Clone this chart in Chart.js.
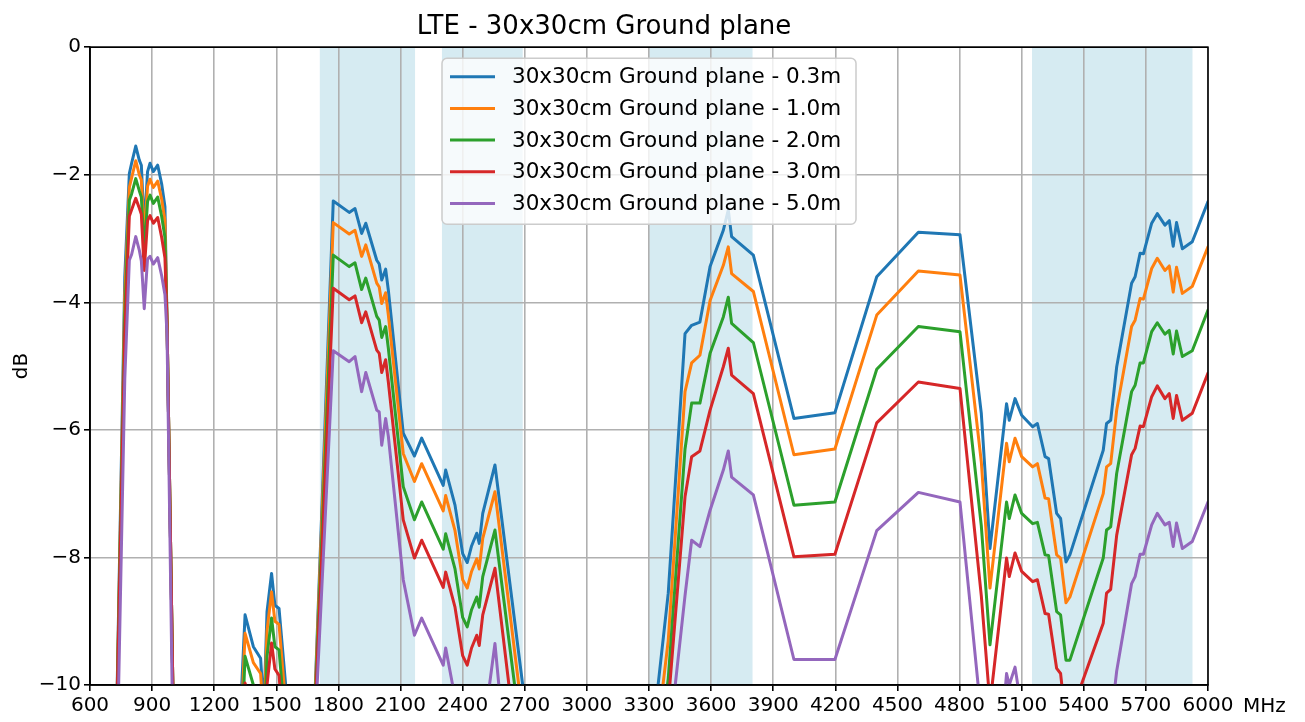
<!DOCTYPE html>
<html>
<head>
<meta charset="utf-8">
<title>LTE - 30x30cm Ground plane</title>
<script src="https://cdn.jsdelivr.net/npm/chart.js@4.4.0/dist/chart.umd.min.js"></script>
<style>
  html, body { margin: 0; padding: 0; background: #fff; }
  canvas { display: block; }
</style>
</head>
<body>
<canvas id="lteChart" width="1305" height="722"></canvas>
<script>
const FONT = "'DejaVu Sans', sans-serif";

// axis ranges / ticks
const xMin = 600, xMax = 6000, xStep = 300;
const yMin = -10, yMax = 0, yStep = 2;

const seriesLabels = [
  '30x30cm Ground plane - 0.3m',
  '30x30cm Ground plane - 1.0m',
  '30x30cm Ground plane - 2.0m',
  '30x30cm Ground plane - 3.0m',
  '30x30cm Ground plane - 5.0m'
];
const seriesColors = ['#1f77b4', '#ff7f0e', '#2ca02c', '#d62728', '#9467bd'];

// shaded LTE bands (MHz)
const lteBands = [[1710, 2170], [2300, 2690], [3300, 3800], [5150, 5925]];

// frequency points (MHz), values below -10 dB fall outside the plot
const freqMHz = [
  720, 768, 790, 801, 821, 838, 848, 862, 878, 890, 906, 927, 946, 962, 972, 1010,
  1300, 1333, 1349, 1389, 1424, 1440, 1455, 1477, 1493, 1513, 1545, 1575,
  1660, 1775, 1852, 1880, 1912, 1932, 1985, 1997, 2009, 2028, 2041, 2113, 2167, 2202, 2306, 2318, 2363, 2400, 2422, 2443, 2468, 2480, 2497, 2556, 2690, 2720,
  3300, 3320, 3393, 3474, 3506, 3546, 3595, 3659, 3683, 3699, 3804, 4000, 4198, 4400, 4601, 4802, 4905, 4947,
  5027, 5040, 5068, 5100, 5153, 5176, 5213, 5230, 5269, 5288, 5314, 5333, 5494, 5510, 5530, 5559, 5631, 5648, 5672, 5688, 5728, 5755, 5792, 5813, 5832, 5848, 5876, 5924, 6000
];

const gp03 = [
  -12, -3.6, -1.98, -1.82, -1.55, -1.77, -1.85, -2.85, -1.95, -1.82, -1.95, -1.85, -2.14, -2.5, -4.3, -12,
  -12, -10, -8.9, -9.4, -9.58, -10.4, -8.85, -8.25, -8.75, -8.8, -10, -12,
  -12.5, -2.41, -2.59, -2.53, -2.92, -2.76, -3.34, -3.4, -3.65, -3.48, -3.81, -6.05, -6.41, -6.13, -6.87, -6.63, -7.18, -7.94, -8.08, -7.82, -7.62, -7.78, -7.31, -6.55, -10, -14,
  -14, -10.7, -8.56, -4.49, -4.36, -4.31, -3.44, -2.87, -2.55, -2.97, -3.26, -5.82, -5.73, -3.6, -2.9, -2.94, -5.74, -7.86,
  -5.59, -5.85, -5.51, -5.77, -5.95, -5.9, -6.42, -6.45, -7.31, -7.39, -8.07, -7.96, -6.32, -5.9, -5.85, -5.01, -3.7, -3.6, -3.23, -3.24, -2.76, -2.61, -2.79, -2.72, -3.12, -2.75, -3.16, -3.05, -2.42
];
const gp10 = [
  -12, -3.9, -2.2, -2.05, -1.78, -2.0, -2.08, -3.0, -2.18, -2.07, -2.2, -2.1, -2.38, -2.72, -4.3, -12,
  -12, -10.4, -9.19, -9.65, -9.82, -10.6, -9.15, -8.54, -9.0, -9.05, -10.3, -12,
  -12.5, -2.75, -2.93, -2.87, -3.28, -3.1, -3.7, -3.76, -4.02, -3.85, -4.2, -6.37, -6.81, -6.53, -7.27, -7.03, -7.58, -8.35, -8.48, -8.22, -8.02, -8.18, -7.7, -6.97, -10.5, -14,
  -14, -11.3, -9.3, -5.4, -4.95, -4.83, -3.97, -3.42, -3.13, -3.55, -3.83, -6.39, -6.3, -4.2, -3.51, -3.57, -6.5, -8.48,
  -6.21, -6.5, -6.13, -6.42, -6.58, -6.53, -7.07, -7.08, -7.96, -8.01, -8.71, -8.62, -7.0, -6.58, -6.53, -5.69, -4.38, -4.28, -3.94, -3.95, -3.47, -3.31, -3.5, -3.43, -3.84, -3.45, -3.86, -3.75, -3.13
];
const gp20 = [
  -12, -4.2, -2.4, -2.3, -2.06, -2.25, -2.35, -3.2, -2.42, -2.32, -2.45, -2.35, -2.65, -2.98, -4.3, -12,
  -12, -10.8, -9.55, -10.0, -10.2, -10.9, -9.55, -8.95, -9.4, -9.45, -10.7, -12,
  -12.5, -3.26, -3.44, -3.38, -3.8, -3.62, -4.22, -4.28, -4.55, -4.38, -4.72, -6.89, -7.41, -7.13, -7.87, -7.63, -8.18, -8.94, -9.09, -8.82, -8.62, -8.78, -8.3, -7.57, -11, -14,
  -14, -11.8, -9.9, -6.3, -5.58, -5.58, -4.8, -4.23, -3.92, -4.33, -4.63, -7.18, -7.13, -5.05, -4.38, -4.46, -7.5, -9.37,
  -7.13, -7.39, -7.02, -7.31, -7.47, -7.45, -7.96, -7.97, -8.85, -8.9, -9.61, -9.61, -8.01, -7.57, -7.52, -6.68, -5.4, -5.3, -4.95, -4.95, -4.46, -4.32, -4.5, -4.44, -4.81, -4.45, -4.85, -4.76, -4.12
];
const gp30 = [
  -12, -4.5, -2.65, -2.55, -2.37, -2.52, -2.62, -3.5, -2.72, -2.64, -2.76, -2.67, -2.98, -3.3, -4.3, -12,
  -12, -11.2, -9.97, -10.4, -10.6, -11.3, -10.0, -9.34, -9.75, -9.85, -11.1, -12,
  -12.5, -3.78, -3.96, -3.9, -4.32, -4.15, -4.75, -4.8, -5.1, -4.9, -5.25, -7.41, -8.01, -7.73, -8.47, -8.23, -8.78, -9.54, -9.69, -9.42, -9.22, -9.38, -8.9, -8.17, -11.8, -14,
  -14, -12.3, -10.3, -7.05, -6.42, -6.33, -5.69, -5.01, -4.72, -5.14, -5.43, -7.99, -7.95, -5.89, -5.25, -5.35, -8.6, -10.3,
  -8.01, -8.3, -7.93, -8.22, -8.38, -8.35, -8.88, -8.89, -9.74, -9.82, -10.6, -10.5, -9.03, -8.56, -8.5, -7.65, -6.39, -6.29, -5.94, -5.95, -5.48, -5.31, -5.51, -5.43, -5.82, -5.46, -5.85, -5.74, -5.11
];
const gp50 = [
  -13, -5.2, -3.34, -3.25, -2.97, -3.18, -3.35, -4.1, -3.32, -3.28, -3.4, -3.3, -3.58, -3.88, -4.5, -13,
  -12, -12, -10.8, -11.2, -11.4, -12, -10.9, -10.2, -10.6, -10.7, -11.8, -12,
  -12.5, -4.76, -4.93, -4.85, -5.4, -5.1, -5.69, -5.72, -6.24, -5.82, -6.1, -8.35, -9.22, -8.95, -9.69, -9.42, -10.2, -11, -11.2, -11, -10.9, -11, -10.8, -9.35, -14, -14,
  -14, -13.5, -11, -8.6, -7.73, -7.83, -7.26, -6.63, -6.33, -6.74, -7.02, -9.6, -9.6, -7.58, -6.98, -7.13, -10.5, -13,
  -9.82, -10.0, -9.72, -10.4, -11, -11, -11.5, -11.5, -12, -12, -12.5, -12.5, -11.2, -10.8, -10.6, -9.78, -8.41, -8.3, -7.95, -7.95, -7.49, -7.31, -7.49, -7.45, -7.83, -7.46, -7.86, -7.75, -7.13
];

const allSeries = [gp03, gp10, gp20, gp30, gp50];

// light blue spans behind the grid
const bandShading = {
  id: 'bandShading',
  beforeDraw(chart) {
    const { ctx, chartArea, scales } = chart;
    ctx.save();
    ctx.fillStyle = 'rgba(173, 216, 230, 0.5)';
    lteBands.forEach(([lo, hi]) => {
      const x0 = scales.x.getPixelForValue(lo);
      const x1 = scales.x.getPixelForValue(hi);
      ctx.fillRect(x0, chartArea.top, x1 - x0, chartArea.bottom - chartArea.top);
    });
    ctx.restore();
  }
};

// full box around the plot, like the matplotlib spines
const axesFrame = {
  id: 'axesFrame',
  afterDatasetsDraw(chart) {
    const { ctx, chartArea } = chart;
    ctx.save();
    ctx.strokeStyle = '#000';
    ctx.lineWidth = 1.6;
    ctx.strokeRect(chartArea.left, chartArea.top, chartArea.right - chartArea.left, chartArea.bottom - chartArea.top);
    ctx.restore();
  }
};

// legend box inside the plot, top centre
const boxLegend = {
  id: 'boxLegend',
  afterDraw(chart) {
    const { ctx, chartArea } = chart;
    const left = chartArea.left + 352;
    const top = chartArea.top + 11;
    const w = 414, h = 166, r = 5;
    ctx.save();
    ctx.beginPath();
    ctx.roundRect(left, top, w, h, r);
    ctx.fillStyle = 'rgba(255, 255, 255, 0.8)';
    ctx.fill();
    ctx.strokeStyle = '#cccccc';
    ctx.lineWidth = 1.5;
    ctx.stroke();

    ctx.font = '21.5px ' + FONT;
    ctx.textBaseline = 'middle';
    ctx.textAlign = 'left';
    seriesLabels.forEach((label, i) => {
      const y = top + 18.5 + i * 31.7;
      ctx.beginPath();
      ctx.moveTo(left + 8, y);
      ctx.lineTo(left + 53, y);
      ctx.strokeStyle = seriesColors[i];
      ctx.lineWidth = 3;
      ctx.stroke();
      ctx.fillStyle = '#000';
      ctx.fillText(label, left + 70, y + 1);
    });
    ctx.restore();
  }
};

// unit text at the right end of the x axis
const unitLabel = {
  id: 'unitLabel',
  afterDraw(chart) {
    const { ctx, chartArea } = chart;
    ctx.save();
    ctx.font = '20px ' + FONT;
    ctx.fillStyle = '#000';
    ctx.textAlign = 'left';
    ctx.textBaseline = 'middle';
    ctx.fillText('MHz', chartArea.right + 35, chartArea.bottom + 22);
    ctx.restore();
  }
};

const datasets = allSeries.map((vals, i) => ({
  label: seriesLabels[i],
  data: freqMHz.map((f, j) => ({ x: f, y: vals[j] })),
  borderColor: seriesColors[i],
  backgroundColor: seriesColors[i],
  borderWidth: 3,
  borderJoinStyle: 'round',
  borderCapStyle: 'round',
  pointRadius: 0,
  tension: 0,
  fill: false,
  clip: 0,
  order: allSeries.length - 1 - i
}));

const ctx = document.getElementById('lteChart').getContext('2d');
new Chart(ctx, {
  type: 'line',
  data: { datasets },
  plugins: [bandShading, axesFrame, boxLegend, unitLabel],
  options: {
    responsive: false,
    animation: false,
    devicePixelRatio: 1,
    layout: { padding: { left: 0, right: 97, top: 0, bottom: 0 } },
    plugins: {
      legend: { display: false },
      tooltip: { enabled: false },
      title: {
        display: true,
        text: 'LTE - 30x30cm Ground plane',
        color: '#000',
        font: { family: FONT, size: 26, weight: 'normal' },
        padding: { top: 12, bottom: 4 }
      }
    },
    scales: {
      x: {
        type: 'linear',
        min: xMin,
        max: xMax,
        afterFit: scale => { scale.height = 37; },
        ticks: {
          stepSize: xStep,
          autoSkip: false,
          maxRotation: 0,
          color: '#000',
          padding: 3,
          font: { family: FONT, size: 20 },
          callback: v => String(v)
        },
        grid: { color: '#b0b0b0', lineWidth: 1.6, tickColor: '#000', tickLength: 6, tickWidth: 1.6 },
        border: { color: '#000', width: 1.6 }
      },
      y: {
        min: yMin,
        max: yMax,
        afterFit: scale => { scale.width = 90; },
        ticks: {
          stepSize: yStep,
          color: '#000',
          padding: 3,
          font: { family: FONT, size: 20 },
          callback: v => (v < 0 ? '\u2212' + Math.abs(v) : String(v))
        },
        title: {
          display: true,
          text: 'dB',
          color: '#000',
          font: { family: FONT, size: 20 },
          padding: { top: 10, bottom: 0 }
        },
        grid: { color: '#b0b0b0', lineWidth: 1.6, tickColor: '#000', tickLength: 6, tickWidth: 1.6 },
        border: { color: '#000', width: 1.6 }
      }
    }
  }
});
</script>
</body>
</html>
